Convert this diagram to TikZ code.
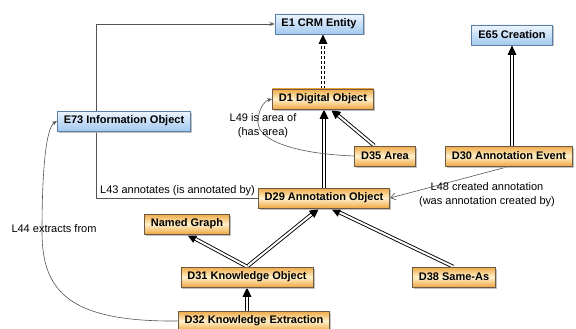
\documentclass[tikz,border=0pt]{standalone}
\usepackage{fontspec}
\setmainfont{Liberation Sans}
\usetikzlibrary{arrows.meta,calc,backgrounds,shadows,decorations.markings}
\definecolor{orEdge}{HTML}{EFA843}
\definecolor{orMid}{HTML}{FFF1CC}
\definecolor{blTop}{HTML}{EEF5FD}
\definecolor{blBot}{HTML}{A3C9F0}
\definecolor{blBorder}{HTML}{5C7FA6}
\definecolor{orBorder}{HTML}{6B5A45}
\definecolor{lineGray}{HTML}{555555}
\begin{document}
\begin{tikzpicture}[x=1pt,y=-1pt,
 box/.style={rectangle, font=\fontsize{11}{13}\selectfont\bfseries, inner xsep=6.5pt, inner ysep=0pt, minimum height=20pt, line width=0.8pt,
   drop shadow={shadow xshift=1.5pt, shadow yshift=-1.5pt, fill=black!30, opacity=0.8}},
 bluebox/.style={box, draw=blBorder, top color=blTop, bottom color=blBot},
 orbox/.style={box, draw=orBorder, top color=orEdge, bottom color=orEdge, middle color=orMid},
 gen/.style={draw=black, double=white, double distance=2pt, line width=0.9pt, shorten >=6pt,
   decoration={markings, mark=at position 1 with {\fill[black] (0pt,0pt) -- (-9.5pt,4.5pt) -- (-9.5pt,-4.5pt) -- cycle;}},
   postaction={decorate}},
 rel/.style={draw=lineGray, line width=0.6pt, -{Stealth[length=5pt,width=4pt]}},
 relopen/.style={draw=lineGray, line width=0.6pt, -{Straight Barb[length=5pt,width=7pt]}},
 lbl/.style={font=\fontsize{11}{14}\selectfont, align=center, inner sep=0pt}]
\useasboundingbox (0,0) rectangle (576,329);
\node[bluebox] (e1) at (319,24) {E1 CRM Entity};
\node[bluebox] (e65) at (512,35) {E65 Creation};
\node[bluebox] (e73) at (124,121) {E73 Information Object};
\node[orbox] (d1) at (323,99) {D1 Digital Object};
\node[orbox] (d35) at (385,156) {D35 Area};
\node[orbox] (d30) at (509,156) {D30 Annotation Event};
\node[orbox] (d29) at (324,198) {D29 Annotation Object};
\node[orbox] (ng) at (187,224) {Named Graph};
\node[orbox] (d31) at (247,277) {D31 Knowledge Object};
\node[orbox] (d38) at (454,277) {D38 Same-As};
\node[orbox] (d32) at (254,321) {D32 Knowledge Extraction};
\node[lbl, anchor=west] (t43) at (100,191) {L43 annotates (is annotated by)};
\node[lbl] (t49) at (263,126) {L49 is area of\\(has area)};
\node[lbl] (t48) at (487,195) {L48 created annotation\\(was annotation created by)};
\node[lbl] (t44) at (54,229) {L44 extracts from};
\coordinate (c43) at (96,198);
\coordinate (c49) at (258,122);
\coordinate (c44) at (42,232);
\begin{scope}[on background layer]
\fill[white] (0,0) rectangle (576,329);
\draw[rel] (d29.west) -- (c43) |- (e1.west);
\draw[gen, dash pattern=on 3pt off 2pt] (d1.north) -- (d1.north |- e1.south);
\draw[gen] (e65.south |- d30.north) -- (e65.south);
\draw[gen] (d29.north) -- (d29.north |- d1.south);
\draw[gen] ([xshift=20pt]d35.north west) -- ([xshift=8pt]d1.south);
\draw[gen] (d31.north) -- ([xshift=-5pt]d29.south);
\draw[gen] ([xshift=-1pt]d38.north) -- ([xshift=7pt]d29.south);
\draw[gen] (d31.north) -- (ng.south);
\draw[gen] (d31.south |- d32.north) -- (d31.south);
\draw[rel] (d35.west) .. controls (300,154) and (258,142) .. (c49) .. controls (258,110) and (264,101) .. (d1.west);
\draw[relopen] (d30.south) -- (d29.east);
\draw[rel] (d32.west) .. controls (70,322) and (42,292) .. (c44) .. controls (42,170) and (46,128) .. (e73.west);
\end{scope}
\end{tikzpicture}
\end{document}
